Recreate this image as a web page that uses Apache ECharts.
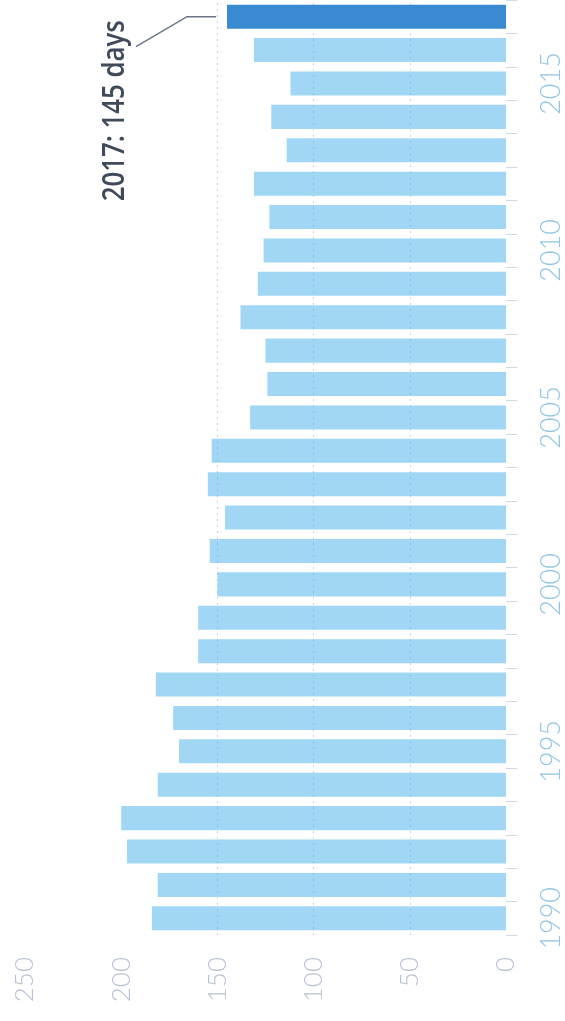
<!DOCTYPE html>
<html>
<head>
<meta charset="utf-8">
<script src="https://cdn.jsdelivr.net/npm/echarts@6/dist/echarts.min.js"></script>
<style>
  html, body { margin: 0; padding: 0; background: #fff; }
  #chart { width: 565px; height: 1021px; }
</style>
</head>
<body>
<div id="chart"></div>
<script>
// days per year, 1990 -> 2017
var years = ['1990','1991','1992','1993','1994','1995','1996','1997','1998','1999',
             '2000','2001','2002','2003','2004','2005','2006','2007','2008','2009',
             '2010','2011','2012','2013','2014','2015','2016','2017'];
var days = [184, 181, 197, 200, 181, 170, 173, 182, 160, 160,
            150, 154, 146, 155, 153, 133, 124, 125, 138, 129,
            126, 123, 131, 114, 122, 112, 131, 145];
var valueTicks = [0, 50, 100, 150, 200, 250];
var highlightYear = '2017';

var chart = echarts.init(document.getElementById('chart'));

var barData = days.map(function (v, i) {
  return years[i] === highlightYear
    ? { value: v, itemStyle: { color: '#3a8ad2' } }
    : v;
});

var option = {
  animation: false,
  grid: { left: 25, right: 58, top: -5, bottom: 86 },
  xAxis: {
    type: 'value',
    inverse: true,
    min: valueTicks[0],
    max: valueTicks[valueTicks.length - 1],
    interval: 50,
    axisLine: { show: false },
    axisTick: { show: false },
    splitLine: { show: false },
    axisLabel: {
      rotate: 90,
      margin: 22,
      color: '#b9c3d3',
      fontFamily: 'Lato',
      fontWeight: 300,
      fontSize: 26
    }
  },
  yAxis: {
    type: 'category',
    position: 'right',
    data: years,
    axisLine: { show: false },
    axisTick: { show: true, interval: 0, length: 11, lineStyle: { color: '#d4d8dd' } },
    axisLabel: {
      interval: 4,
      rotate: 90,
      margin: 32,
      color: '#93c6e3',
      fontFamily: 'Lato',
      fontWeight: 300,
      fontSize: 27
    }
  },
  series: [{
    type: 'bar',
    data: barData,
    barCategoryGap: '28%',
    itemStyle: { color: '#a1d7f4' },
    markLine: {
      silent: true,
      symbol: 'none',
      label: { show: false },
      lineStyle: { type: [2, 4], color: 'rgba(70,150,210,0.35)', width: 1 },
      data: [{ xAxis: 50 }, { xAxis: 100 }, { xAxis: 150 }]
    }
  }]
};
chart.setOption(option);

// annotation for the highlighted year, placed from the data point
var idx = years.indexOf(highlightYear);
var p = chart.convertToPixel({ gridIndex: 0 }, [days[idx], highlightYear]);
chart.setOption({
  graphic: [{
    type: 'polyline',
    shape: { points: [[p[0] - 11, p[1]], [p[0] - 40, p[1]], [p[0] - 91, p[1] + 30]] },
    style: { stroke: '#6b7785', lineWidth: 1.5, fill: null }
  }, {
    type: 'text',
    x: p[0] - 112,
    y: p[1] + 94,
    rotation: Math.PI / 2,
    scaleX: 0.86,
    style: {
      text: highlightYear + ': ' + days[idx] + ' days',
      font: '600 30px "Open Sans"',
      fill: '#3f4b5b',
      align: 'center',
      verticalAlign: 'middle'
    }
  }]
});
</script>
</body>
</html>
